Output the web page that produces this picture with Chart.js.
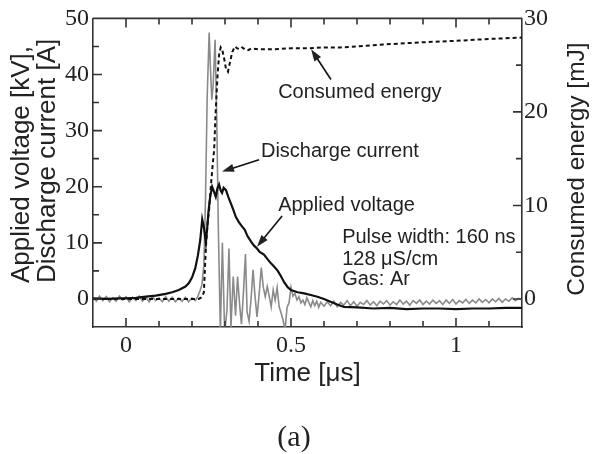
<!DOCTYPE html>
<html>
<head>
<meta charset="utf-8">
<script src="https://cdn.jsdelivr.net/npm/chart.js@4"></script>
<style>
  html, body { margin: 0; padding: 0; background: #fff; }
  #wrap { position: relative; width: 592px; height: 454px; }
</style>
</head>
<body>
<div id="wrap"><canvas id="pulseChart" width="592" height="454"></canvas></div>
<script>
// tick labels
const xTickLabels = [0, 0.5, 1];
const yTickLabels = [0, 10, 20, 30, 40, 50];
const y1TickLabels = [0, 10, 20, 30];

// applied voltage [kV] vs time [us]
const voltageT = [-0.1, -0.06, -0.02, 0.0, 0.03, 0.06, 0.09, 0.12, 0.14, 0.16, 0.18, 0.19, 0.2, 0.21, 0.218, 0.225, 0.231, 0.236, 0.242, 0.246,
  0.25, 0.255, 0.261, 0.266, 0.272, 0.277, 0.282, 0.287, 0.291, 0.296, 0.303, 0.31, 0.318, 0.325, 0.333, 0.342, 0.352, 0.36, 0.368, 0.379,
  0.388, 0.397, 0.405, 0.418, 0.43, 0.44, 0.45, 0.46, 0.47, 0.48, 0.49, 0.5, 0.52, 0.54, 0.56, 0.58, 0.6, 0.62, 0.64, 0.66,
  0.7, 0.75, 0.8, 0.85, 0.9, 0.95, 1.0, 1.05, 1.1, 1.15, 1.2];
const voltageKV = [0.1, 0.0, 0.1, 0.1, 0.2, 0.4, 0.6, 0.9, 1.2, 1.6, 2.2, 2.8, 3.8, 5.5, 7.8, 10.5, 14.2, 12.8, 10.0, 12.6,
  15.6, 18.2, 20.0, 19.2, 18.2, 19.7, 20.4, 19.3, 18.9, 19.8, 19.4, 18.2, 17.0, 15.9, 14.6, 13.7, 12.9, 12.3, 11.2, 10.2,
  9.5, 9.0, 8.4, 7.9, 7.0, 6.3, 5.7, 5.0, 4.0, 2.9, 2.1, 1.6, 1.2, 1.0, 0.7, 0.4, 0.0, -0.5, -1.0, -1.4,
  -1.5, -1.7, -1.6, -1.8, -1.7, -1.7, -1.8, -1.7, -1.7, -1.6, -1.6];

// discharge current [A] vs time [us]
const currentT = [-0.1, -0.09, -0.08, -0.07, -0.06, -0.05, -0.04, -0.03, -0.02, -0.01, 0, 0.01, 0.02, 0.03, 0.04, 0.05, 0.06, 0.07, 0.08, 0.09,
  0.1, 0.11, 0.12, 0.13, 0.14, 0.15, 0.16, 0.17, 0.18, 0.19, 0.2, 0.21, 0.218, 0.224, 0.23, 0.236, 0.241, 0.246, 0.252, 0.256,
  0.26, 0.264, 0.27, 0.275, 0.28, 0.286, 0.292, 0.299, 0.306, 0.312, 0.318, 0.325, 0.332, 0.338, 0.345, 0.35, 0.356, 0.362, 0.367,
  0.373, 0.379, 0.385, 0.391, 0.397, 0.403, 0.41, 0.416, 0.422, 0.428, 0.434, 0.44, 0.446, 0.452, 0.458, 0.464, 0.47, 0.476, 0.482, 0.488,
  0.494, 0.5, 0.506, 0.512, 0.518, 0.524, 0.53, 0.536, 0.542, 0.548, 0.554, 0.56, 0.566, 0.572, 0.578, 0.584, 0.59,
  0.6, 0.61, 0.62, 0.63, 0.64, 0.65, 0.66, 0.67, 0.68, 0.69, 0.7, 0.71, 0.72, 0.73, 0.74, 0.75, 0.76, 0.77, 0.78, 0.79,
  0.8, 0.81, 0.82, 0.83, 0.84, 0.85, 0.86, 0.87, 0.88, 0.89, 0.9, 0.91, 0.92, 0.93, 0.94, 0.95, 0.96, 0.97, 0.98, 0.99,
  1.0, 1.01, 1.02, 1.03, 1.04, 1.05, 1.06, 1.07, 1.08, 1.09, 1.1, 1.11, 1.12, 1.13, 1.14, 1.15, 1.16, 1.17, 1.18, 1.19, 1.2];
const currentA = [0.3, -0.4, 0.5, -0.3, 0.4, -0.5, 0.2, -0.4, 0.5, -0.2, 0.4, -0.5, 0.3, -0.3, 0.5, -0.4, 0.3, -0.5, 0.4, -0.3,
  0.2, -0.5, 0.4, -0.4, 0.3, -0.5, 0.2, -0.4, 0.3, -0.5, 0.2, -0.3, 0.5, 1.4, 2.5, 6, 18, 36, 47.5, 41,
  35.5, 38, 46.2, 32, 12, -6, 10, -6, -2, 9, -5, 4, -3, 4, -1.5, -4.5, 1.3, 8, -2.3,
  -4, 0, 5.2, 0.5, -3.2, 0.5, 5.6, 2.1, 0.4, 2.2, 0.5, -1.4, 1.6, -0.2, 2, -1.4, -2.5, -3.8, -5.5, -1.5,
  -0.7, 2.1, 0.5, 1, -0.2, 0.4, -0.7, -0.2, -1.0, 0.2, -0.6, -1.4, -0.3, -1.2, -0.4, -1.5, -0.6,
  -1.3, -0.5, -1.2, -0.4, -1.4, -0.6, -1.1, -0.3, -1.2, -0.5, -1.3, -0.6, -1.0, -0.3, -1.1, -0.5, -1.2, -0.4, -0.9, -0.3,
  -1.1, -0.5, -1.0, -0.2, -0.9, -0.4, -1.1, -0.3, -0.8, -0.2, -1.0, -0.4, -0.9, -0.2, -0.8, -0.3, -1.0, -0.2, -0.8, -0.1,
  -0.9, -0.3, -0.7, -0.1, -0.8, -0.2, -0.7, 0.0, -0.6, -0.1, -0.7, 0.0, -0.5, 0.1, -0.6, 0.0, -0.4, 0.2, -0.3, 0.1, -0.1];

// consumed energy [mJ] vs time [us]
const energyT = [-0.1, 0.22, 0.23, 0.236, 0.242, 0.247, 0.252, 0.258, 0.263, 0.267, 0.272, 0.277, 0.282, 0.287, 0.292, 0.298, 0.303, 0.309, 0.315, 0.322,
  0.33, 0.337, 0.345, 0.352, 0.36, 0.37, 0.38, 0.4, 0.45, 0.5, 0.55, 0.6, 0.65, 0.7, 0.8, 0.9, 1.0, 1.1, 1.2];
const energyMJ = [0, 0, 0.2, 0.7, 5.5, 8, 9.6, 12.4, 14.5, 15.9, 20.2, 23.7, 26.1, 26.9, 26.6, 25.6, 24.6, 24.3, 25.3, 26.4,
  27.0, 26.8, 26.7, 26.9, 26.7, 26.6, 26.8, 26.7, 26.7, 26.8, 26.8, 26.9, 26.9, 27.0, 27.25, 27.45, 27.6, 27.8, 27.95];

const toPoints = (xs, ys) => xs.map((x, i) => ({x: x, y: ys[i]}));

const axisColor = '#333';
const textColor = '#222';
const sansFont = '"Liberation Sans", Arial, sans-serif';
const serifFont = '"Liberation Serif", "Times New Roman", serif';

// annotation texts, placed in data units (time, left axis)
const notes = [
    {text: 'Consumed energy', t: 0.461, v: 36.8},
    {text: 'Discharge current', t: 0.409, v: 26.3},
    {text: 'Applied voltage', t: 0.461, v: 16.6},
    {text: 'Pulse width: 160 ns', t: 0.655, v: 10.9},
    {text: '128 \u03bcS/cm', t: 0.655, v: 7.0},
    {text: 'Gas: Ar', t: 0.655, v: 3.4}
];
const arrows = [
    {from: [0.621, 39.1], to: [0.561, 44.5]},
    {from: [0.403, 24.8], to: [0.291, 22.7]},
    {from: [0.473, 14.8], to: [0.397, 9.3]}
];

function drawArrow(ctx, x1, y1, x2, y2) {
    const ang = Math.atan2(y2 - y1, x2 - x1);
    const head = 12, wing = 4;
    ctx.beginPath();
    ctx.moveTo(x1, y1);
    ctx.lineTo(x2 - Math.cos(ang) * head * 0.8, y2 - Math.sin(ang) * head * 0.8);
    ctx.stroke();
    ctx.beginPath();
    ctx.moveTo(x2, y2);
    ctx.lineTo(x2 - head * Math.cos(ang) + wing * Math.sin(ang), y2 - head * Math.sin(ang) - wing * Math.cos(ang));
    ctx.lineTo(x2 - head * Math.cos(ang) - wing * Math.sin(ang), y2 - head * Math.sin(ang) + wing * Math.cos(ang));
    ctx.closePath();
    ctx.fill();
}

const frameAndNotes = {
    id: 'frameAndNotes',
    afterDatasetsDraw(chart) {
        const {ctx, chartArea: a, scales: {x, y, y1}} = chart;
        ctx.save();
        ctx.strokeStyle = axisColor;
        ctx.lineWidth = 1.6;

        // top edge of the box
        ctx.beginPath();
        ctx.moveTo(a.left, a.top);
        ctx.lineTo(a.right, a.top);
        ctx.stroke();

        // inward ticks
        ctx.beginPath();
        for (let i = 1; i <= 12; i++) {
            const v = -0.1 + i * 0.1;
            const px = x.getPixelForValue(v);
            const major = xTickLabels.some(t => Math.abs(t - v) < 1e-6);
            const len = major ? 9 : 6;
            ctx.moveTo(px, a.bottom); ctx.lineTo(px, a.bottom - len);
            ctx.moveTo(px, a.top); ctx.lineTo(px, a.top + len);
        }
        for (let v = 0; v < 50; v += 5) {
            const py = y.getPixelForValue(v);
            const len = v % 10 === 0 ? 9 : 6;
            ctx.moveTo(a.left, py); ctx.lineTo(a.left + len, py);
        }
        for (let v = 0; v < 30; v += 5) {
            const py = y1.getPixelForValue(v);
            const len = v % 10 === 0 ? 9 : 6;
            ctx.moveTo(a.right, py); ctx.lineTo(a.right - len, py);
        }
        ctx.stroke();

        // notes and arrows
        ctx.fillStyle = textColor;
        ctx.strokeStyle = '#111';
        ctx.lineWidth = 1.6;
        ctx.font = '20px ' + sansFont;
        ctx.textAlign = 'left';
        ctx.textBaseline = 'middle';
        notes.forEach(n => ctx.fillText(n.text, x.getPixelForValue(n.t), y.getPixelForValue(n.v)));
        arrows.forEach(ar => drawArrow(ctx,
            x.getPixelForValue(ar.from[0]), y.getPixelForValue(ar.from[1]),
            x.getPixelForValue(ar.to[0]), y.getPixelForValue(ar.to[1])));

        // left axis title, two lines reading upwards
        ctx.font = '26px ' + sansFont;
        ctx.textBaseline = 'alphabetic';
        ctx.textAlign = 'left';
        [['Applied voltage [kV],', 29], ['Discharge current [A]', 55]].forEach(([txt, bx]) => {
            ctx.save();
            ctx.translate(bx, 283);
            ctx.rotate(-Math.PI / 2);
            ctx.fillText(txt, 0, 0);
            ctx.restore();
        });

        // right axis title
        ctx.font = '24.5px ' + sansFont;
        ctx.textAlign = 'center';
        ctx.save();
        ctx.translate(584, 169);
        ctx.rotate(-Math.PI / 2);
        ctx.fillText('Consumed energy [mJ]', 0, 0);
        ctx.restore();

        // panel label
        ctx.font = '30px ' + serifFont;
        ctx.textAlign = 'center';
        ctx.textBaseline = 'middle';
        ctx.fillText('(a)', 294, 438);
        ctx.restore();
    }
};

const tickFont = {family: serifFont, size: 24};

new Chart(document.getElementById('pulseChart'), {
    type: 'line',
    data: {
        datasets: [
            {
                label: 'Consumed energy',
                data: toPoints(energyT, energyMJ),
                yAxisID: 'y1',
                borderColor: '#111',
                borderWidth: 2,
                borderDash: [4, 3],
                pointRadius: 0,
                tension: 0
            },
            {
                label: 'Applied voltage',
                data: toPoints(voltageT, voltageKV),
                yAxisID: 'y',
                borderColor: '#111',
                borderWidth: 2.2,
                pointRadius: 0,
                tension: 0
            },
            {
                label: 'Discharge current',
                data: toPoints(currentT, currentA),
                yAxisID: 'y',
                borderColor: '#8a8a8a',
                borderWidth: 1.6,
                pointRadius: 0,
                tension: 0
            }
        ]
    },
    options: {
        responsive: false,
        animation: false,
        devicePixelRatio: 1,
        layout: { padding: { top: 18, bottom: 64, left: 0, right: 0 } },
        plugins: { legend: { display: false }, tooltip: { enabled: false } },
        scales: {
            x: {
                type: 'linear', position: 'bottom', min: -0.1, max: 1.2,
                afterBuildTicks: s => { s.ticks = xTickLabels.map(v => ({value: v})); },
                afterFit: s => { s.height = 63; },
                grid: { display: false, drawTicks: false },
                border: { display: true, color: axisColor, width: 1.6 },
                ticks: { font: tickFont, color: textColor, padding: 4, maxRotation: 0, callback: v => String(v) },
                title: { display: true, text: 'Time [\u03bcs]', color: textColor, font: {family: sansFont, size: 26}, padding: {top: 0, bottom: 1} }
            },
            y: {
                type: 'linear', position: 'left', min: -5, max: 50,
                afterBuildTicks: s => { s.ticks = yTickLabels.map(v => ({value: v})); },
                afterFit: s => { s.width = 93; },
                grid: { display: false, drawTicks: false },
                border: { display: true, color: axisColor, width: 1.6 },
                ticks: { font: tickFont, color: textColor, padding: 4 }
            },
            y1: {
                type: 'linear', position: 'right', min: -3, max: 30,
                afterBuildTicks: s => { s.ticks = y1TickLabels.map(v => ({value: v})); },
                afterFit: s => { s.width = 70; },
                grid: { display: false, drawTicks: false },
                border: { display: true, color: axisColor, width: 1.6 },
                ticks: { font: tickFont, color: textColor, padding: 2 }
            }
        }
    },
    plugins: [frameAndNotes]
});
</script>
</body>
</html>
